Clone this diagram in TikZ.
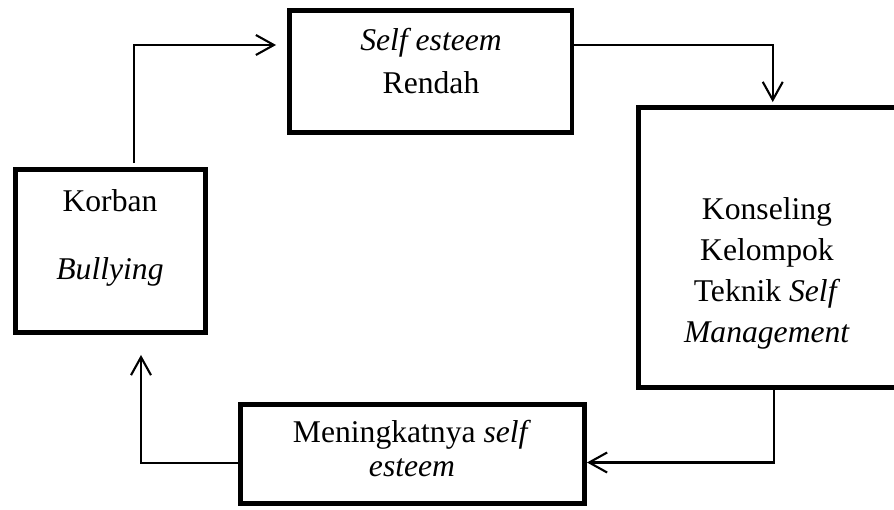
\documentclass[tikz,border=0pt]{standalone}
\usepackage{fontspec}
\setmainfont{Liberation Serif}
\usetikzlibrary{arrows.meta}

\begin{document}
\begin{tikzpicture}[
    boxnode/.style={draw, line width=2.8pt, inner sep=0pt},
    textnode/.style={align=center, inner sep=0pt, font=\fontsize{18pt}{#1}\selectfont},
    flow/.style={line width=1.2pt, -{Straight Barb[length=0.36cm, width=0.4cm, line width=1.2pt]}},
]
    \useasboundingbox (0,0) rectangle (17.88,10.18);
    % boxes
    \node[boxnode, minimum width=3.8cm,  minimum height=3.26cm] (korban)       at (2.21,5.16)  {};
    \node[boxnode, minimum width=5.65cm, minimum height=2.44cm] (self)         at (8.615,8.75) {};
    \node[boxnode, minimum width=5.17cm, minimum height=5.6cm]  (konseling)    at (15.355,5.23) {};
    \node[boxnode, minimum width=6.88cm, minimum height=1.98cm] (meningkatnya) at (8.25,1.1)   {};
    % texts
    \node[textnode=1.36cm] (korbanTxt)       at (2.2,5.43)   {Korban\\\textit{Bullying}};
    \node[textnode=0.85cm] (selfTxt)         at (8.62,8.96)  {\textit{Self esteem}\\Rendah};
    \node[textnode=0.82cm] (konselingTxt)    at (15.34,4.72) {Konseling\\Kelompok\\Teknik \textit{Self}\\\textit{Management}};
    \node[textnode=0.68cm] (meningkatnyaTxt) at (8.24,1.21)  {Meningkatnya \textit{self}\\\textit{esteem}};
    % lines
    \draw[flow, shorten <=0.08cm, shorten >=0.22cm] ([xshift=0.47cm]korban.north) |- ([yshift=0.53cm]self.west);
    \draw[flow, shorten >=0.06cm] ([yshift=0.53cm]self.east) -| ([xshift=0.1cm]konseling.north);
    \draw[flow] ([xshift=0.12cm]konseling.south) |- ([yshift=-0.17cm]meningkatnya.east);
    \draw[flow, shorten >=0.4cm] ([yshift=-0.18cm]meningkatnya.west) -| ([xshift=0.61cm]korban.south);
\end{tikzpicture}
\end{document}
